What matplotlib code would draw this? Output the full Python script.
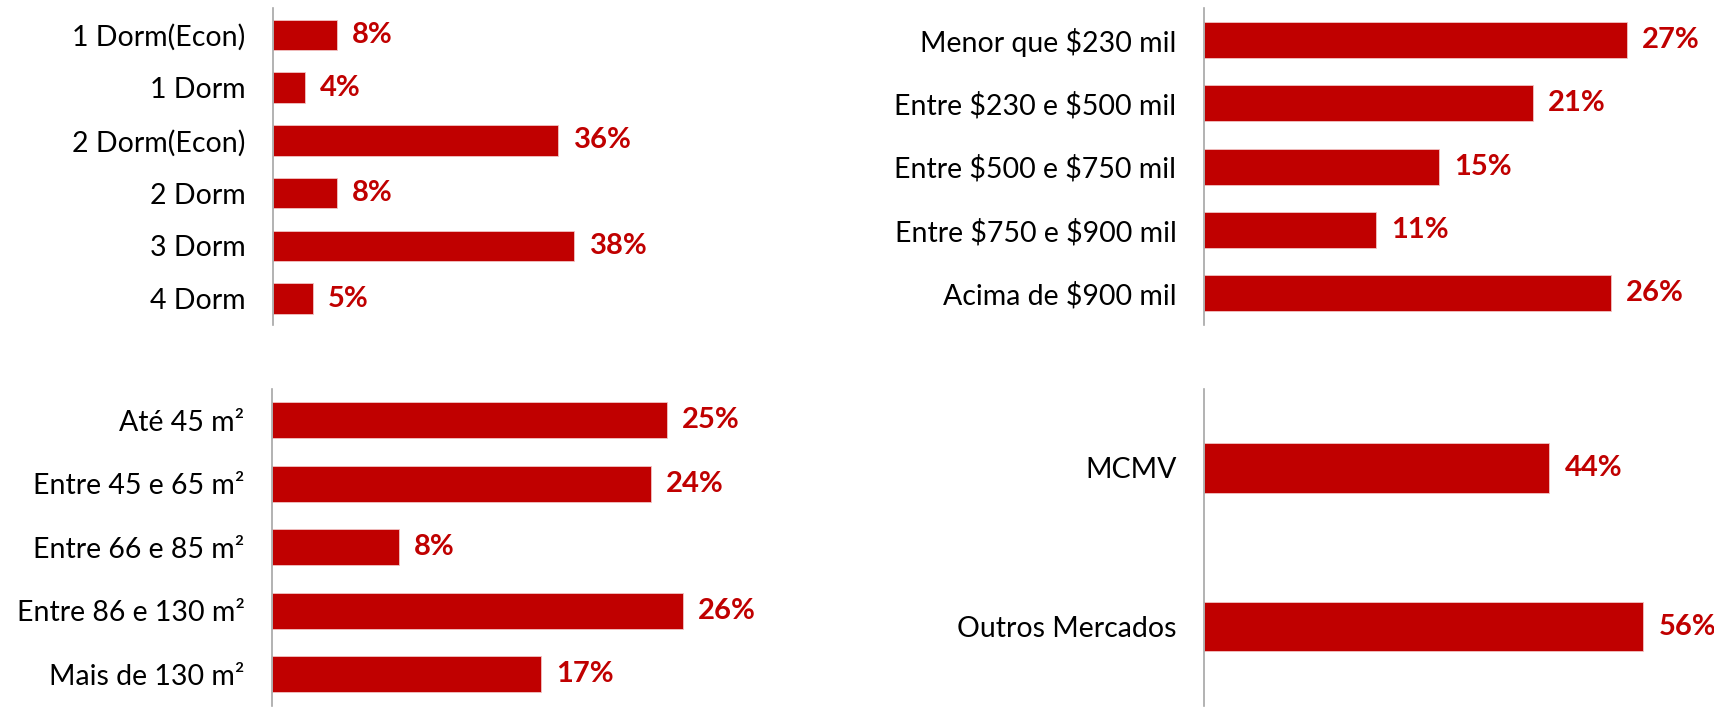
import matplotlib
matplotlib.use("Agg")
from matplotlib import pyplot as plt

plt.rcParams['font.family'] = ['Lato', 'DejaVu Sans']
plt.rcParams['text.parse_math'] = False

RED = '#C00000'
AXIS_GRAY = '#A6A6A6'

# data
dorm_labels = ['1 Dorm(Econ)', '1 Dorm', '2 Dorm(Econ)', '2 Dorm', '3 Dorm', '4 Dorm']
dorm_values = [8, 4, 36, 8, 38, 5]

preco_labels = ['Menor que $230 mil', 'Entre $230 e $500 mil', 'Entre $500 e $750 mil',
                'Entre $750 e $900 mil', 'Acima de $900 mil']
preco_values = [27, 21, 15, 11, 26]

area_labels = ['Até 45 m²', 'Entre 45 e 65 m²', 'Entre 66 e 85 m²',
               'Entre 86 e 130 m²', 'Mais de 130 m²']
area_values = [25, 24, 8, 26, 17]

mercado_labels = ['MCMV', 'Outros Mercados']
mercado_values = [44, 56]

fig = plt.figure(figsize=(17.15, 7.08), dpi=100)


def panel(rect, labels, values, xmax, bar_h):
    ax = fig.add_axes(rect)
    y = list(range(len(labels)))
    ax.barh(y, values, height=bar_h, color=RED, edgecolor='#F2C4C4', linewidth=0.6)
    ax.set_ylim(len(labels) - 0.5, -0.5)
    ax.set_xlim(0, xmax)
    ax.set_yticks(y)
    ax.set_yticklabels(labels, fontsize=20.5, color='black')
    ax.tick_params(axis='y', length=0, pad=20)
    ax.set_xticks([])
    for s in ['top', 'right', 'bottom']:
        ax.spines[s].set_visible(False)
    ax.spines['left'].set_color(AXIS_GRAY)
    ax.spines['left'].set_linewidth(1.2)
    for yi, v in zip(y, values):
        ax.annotate(f'{v}%', (v, yi), xytext=(11, 0), textcoords='offset points',
                    va='center', ha='left', fontsize=21, fontweight='bold',
                    color=RED, annotation_clip=False)
    return ax


# top-left: dormitorios
panel([0.1594, 0.541, 0.1847, 0.447], dorm_labels, dorm_values, 40, 0.58)
# top-right: faixa de preco
panel([0.7022, 0.541, 0.2736, 0.447], preco_labels, preco_values, 30, 0.57)
# bottom-left: area
panel([0.1588, 0.003, 0.2576, 0.448], area_labels, area_values, 28, 0.57)
# bottom-right: mercado
panel([0.7022, 0.003, 0.2742, 0.448], mercado_labels, mercado_values, 60, 0.31)

plt.savefig('out.png', dpi=100)
